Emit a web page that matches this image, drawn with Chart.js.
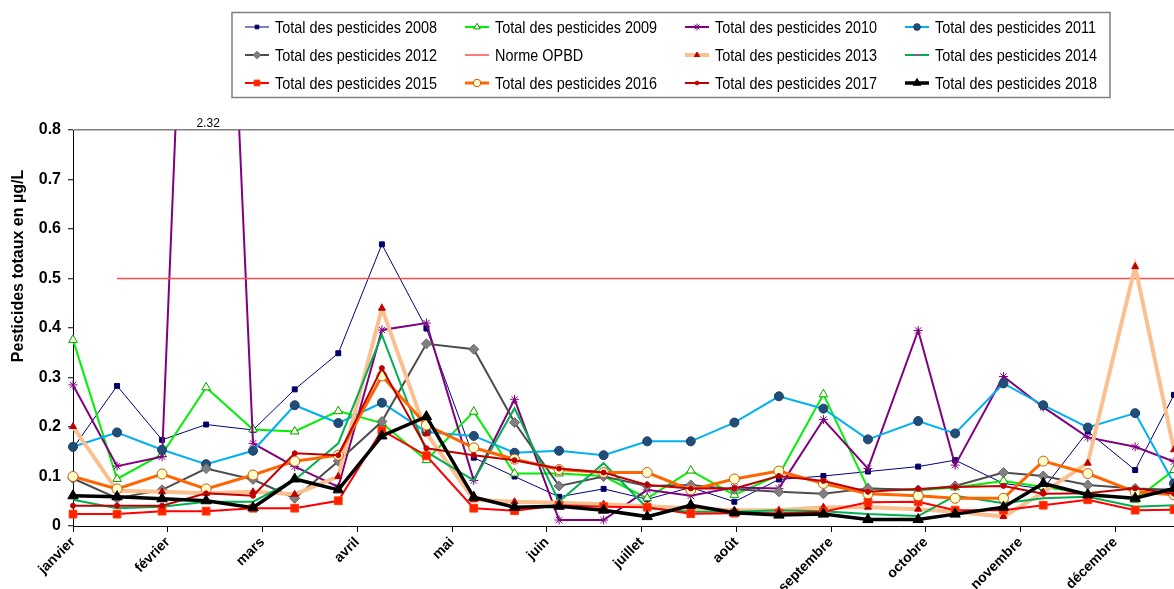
<!DOCTYPE html>
<html lang="fr">
<head>
<meta charset="utf-8">
<title>Total des pesticides</title>
<script src="https://cdn.jsdelivr.net/npm/chart.js@4.4.1/dist/chart.umd.min.js"></script>
<style>
  html, body { margin: 0; padding: 0; background: #fff; }
  #wrap { width: 1174px; height: 589px; position: relative; }
</style>
</head>
<body>
<div id="wrap"><canvas id="chart" width="1174" height="589"></canvas></div>
<script>
const MONTHS = ["janvier", "février", "mars", "avril", "mai", "juin", "juillet",
                "août", "septembre", "octobre", "novembre", "décembre"];

// sampling dates, in months from 1 January
const sampleMonths = [0, 0.465, 0.94, 1.405, 1.90, 2.34, 2.80, 3.26, 3.73, 4.23, 4.66, 5.13, 5.60,
                      6.06, 6.52, 6.98, 7.45, 7.92, 8.39, 8.92, 9.31, 9.82, 10.24, 10.71, 11.21, 11.62];

const total2008 = [0.157, 0.283, 0.174, 0.205, 0.194, 0.276, 0.349, 0.569, 0.399, 0.138, 0.100, 0.059, 0.075,
                   0.054, 0.078, 0.049, 0.094, 0.101, 0.110, 0.120, 0.133, 0.086, 0.075, 0.191, 0.113, 0.265];
const total2009 = [0.376, 0.095, 0.145, 0.280, 0.195, 0.191, 0.232, 0.208, 0.133, 0.231, 0.106, 0.106, 0.101,
                   0.056, 0.112, 0.063, 0.103, 0.266, 0.076, 0.072, 0.078, 0.091, 0.079, 0.066, 0.053, 0.113];
const total2010 = [0.285, 0.121, 0.140, 2.32, 0.167, 0.120, 0.079, 0.396, 0.410, 0.092, 0.256, 0.012, 0.012,
                   0.073, 0.061, 0.078, 0.076, 0.215, 0.116, 0.395, 0.123, 0.302, 0.240, 0.179, 0.160, 0.130];
const total2011 = [0.160, 0.189, 0.154, 0.125, 0.152, 0.244, 0.208, 0.249, 0.190, 0.182, 0.148, 0.152, 0.143,
                   0.171, 0.171, 0.209, 0.262, 0.237, 0.175, 0.212, 0.187, 0.288, 0.244, 0.199, 0.228, 0.086];
const total2012 = [0.096, 0.056, 0.073, 0.116, 0.094, 0.056, 0.131, 0.211, 0.368, 0.357, 0.209, 0.081, 0.100,
                   0.081, 0.083, 0.074, 0.069, 0.065, 0.076, 0.073, 0.081, 0.108, 0.101, 0.083, 0.076, 0.073];
const normeOPBD = [null, 0.5, 0.5, 0.5, 0.5, 0.5, 0.5, 0.5, 0.5, 0.5, 0.5, 0.5, 0.5,
                   0.5, 0.5, 0.5, 0.5, 0.5, 0.5, 0.5, 0.5, 0.5, 0.5, 0.5, 0.5, 0.5];
const total2013 = [0.201, 0.071, 0.069, 0.066, 0.069, 0.064, 0.100, 0.440, 0.187, 0.053, 0.049, 0.047, 0.044,
                   0.040, 0.036, 0.032, 0.032, 0.038, 0.038, 0.034, 0.029, 0.019, 0.068, 0.127, 0.524, 0.154];
const total2014 = [0.053, 0.036, 0.039, 0.049, 0.049, 0.093, 0.167, 0.386, 0.150, 0.092, 0.238, 0.049, 0.127,
                   0.036, 0.029, 0.029, 0.032, 0.030, 0.024, 0.020, 0.061, 0.046, 0.056, 0.059, 0.039, 0.042];
const total2015 = [0.024, 0.024, 0.030, 0.030, 0.036, 0.036, 0.051, 0.193, 0.142, 0.036, 0.031, 0.042, 0.039,
                   0.038, 0.025, 0.026, 0.026, 0.029, 0.048, 0.049, 0.032, 0.032, 0.042, 0.053, 0.032, 0.033];
const total2016 = [0.100, 0.075, 0.105, 0.075, 0.103, 0.131, 0.143, 0.303, 0.204, 0.158, 0.135, 0.114, 0.108,
                   0.108, 0.073, 0.095, 0.111, 0.086, 0.065, 0.061, 0.056, 0.056, 0.131, 0.106, 0.069, 0.063];
const total2017 = [0.041, 0.041, 0.041, 0.066, 0.061, 0.147, 0.143, 0.319, 0.157, 0.143, 0.133, 0.116, 0.108,
                   0.083, 0.076, 0.076, 0.101, 0.091, 0.069, 0.075, 0.079, 0.081, 0.065, 0.066, 0.076, 0.065];
const total2018 = [0.061, 0.059, 0.055, 0.051, 0.037, 0.095, 0.073, 0.182, 0.221, 0.058, 0.038, 0.040, 0.032,
                   0.019, 0.042, 0.027, 0.022, 0.024, 0.013, 0.013, 0.024, 0.038, 0.086, 0.063, 0.056, 0.076];

const SERIES = [
    { label: "Total des pesticides 2008", values: total2008, line: "#000080", width: 1,   point: "rect",     radius: 3.5, fill: "#000066", stroke: "#000066" },
    { label: "Total des pesticides 2009", values: total2009, line: "#00F000", width: 2,   point: "triangle", radius: 5,   fill: "#FFFFE8", stroke: "#00A000" },
    { label: "Total des pesticides 2010", values: total2010, line: "#800080", width: 2,   point: "star",     radius: 4.5, fill: "#800080", stroke: "#800080" },
    { label: "Total des pesticides 2011", values: total2011, line: "#00B0F0", width: 2,   point: "circle",   radius: 4.5, fill: "#1F4E79", stroke: "#1F3F66" },
    { label: "Total des pesticides 2012", values: total2012, line: "#4D4D4D", width: 2,   point: "rectRot",  radius: 5,   fill: "#808080", stroke: "#666666" },
    { label: "Norme OPBD",                values: normeOPBD, line: "#FF4D4D", width: 1.5, point: "circle",   radius: 0,   fill: "#FF4D4D", stroke: "#FF4D4D" },
    { label: "Total des pesticides 2013", values: total2013, line: "#FAC090", width: 4,   point: "triangle", radius: 4,   fill: "#C00000", stroke: "#C00000" },
    { label: "Total des pesticides 2014", values: total2014, line: "#00B050", width: 2,   point: "circle",   radius: 0,   fill: "#00B050", stroke: "#00B050", legendMark: "#7F6084" },
    { label: "Total des pesticides 2015", values: total2015, line: "#FF0000", width: 2,   point: "rect",     radius: 5.5, fill: "#FF2000", stroke: "#FF4000" },
    { label: "Total des pesticides 2016", values: total2016, line: "#FF6600", width: 3,   point: "circle",   radius: 5,   fill: "#FFFFCC", stroke: "#C65911" },
    { label: "Total des pesticides 2017", values: total2017, line: "#C00000", width: 2,   point: "circle",   radius: 2.5, fill: "#C00000", stroke: "#C00000" },
    { label: "Total des pesticides 2018", values: total2018, line: "#000000", width: 3.5, point: "triangle", radius: 6,   fill: "#000000", stroke: "#000000" }
];

const LEGEND_FONT = '17px "Liberation Sans", Arial, sans-serif';
const LEGEND_TEXT_WIDTH = 162; // width of one "Total des pesticides 20xx" label

Chart.defaults.font.family = '"Liberation Sans", Arial, sans-serif';
Chart.defaults.color = "#000";

const datasets = SERIES.map((s, i) => ({
    label: s.label,
    data: sampleMonths.map((m, k) => ({ x: m, y: s.values[k] })),
    borderColor: s.line,
    borderWidth: s.width,
    backgroundColor: s.fill,
    pointStyle: s.point,
    pointRadius: s.radius,
    pointBackgroundColor: s.fill,
    pointBorderColor: s.stroke,
    pointBorderWidth: 1,
    tension: 0,
    spanGaps: false,
    order: SERIES.length - i,
    clip: { left: 12, top: 0, right: 0, bottom: 12 }
}));

const extras = {
    id: "extras",
    afterDraw(chart) {
        const ctx = chart.ctx;
        const area = chart.chartArea;
        ctx.save();

        // axis title
        ctx.save();
        ctx.translate(19, 266);
        ctx.rotate(-Math.PI / 2);
        ctx.font = 'bold 16px "Liberation Sans", Arial, sans-serif';
        ctx.fillStyle = "#000";
        ctx.textAlign = "center";
        ctx.textBaseline = "middle";
        ctx.fillText("Pesticides totaux en µg/L", 0, 0);
        ctx.restore();

        // value of the point that leaves the plot
        const xOut = chart.scales.x.getPixelForValue(sampleMonths[3]);
        ctx.font = '12px "Liberation Sans", Arial, sans-serif';
        ctx.fillStyle = "#000";
        ctx.textAlign = "center";
        ctx.textBaseline = "alphabetic";
        ctx.fillText(total2010[3].toFixed(2), xOut + 2, area.top - 3);

        // legend box
        ctx.strokeStyle = "#808080";
        ctx.lineWidth = 1.5;
        ctx.strokeRect(232, 12.5, 878, 85);

        ctx.font = LEGEND_FONT;
        const squeeze = LEGEND_TEXT_WIDTH / ctx.measureText(SERIES[0].label).width;

        SERIES.forEach((s, i) => {
            const col = i % 4, row = Math.floor(i / 4);
            const x0 = 245 + col * 220;
            const y = 27 + row * 28;
            ctx.strokeStyle = s.line;
            ctx.lineWidth = s.width;
            ctx.beginPath();
            ctx.moveTo(x0, y);
            ctx.lineTo(x0 + 24, y);
            ctx.stroke();
            if (s.radius > 0) {
                ctx.fillStyle = s.fill;
                ctx.strokeStyle = s.stroke;
                ctx.lineWidth = 1;
                Chart.helpers.drawPoint(ctx, { pointStyle: s.point, radius: s.radius * 0.75, rotation: 0, borderWidth: 1 }, x0 + 12, y);
            }
            if (s.legendMark) {
                ctx.strokeStyle = s.legendMark;
                ctx.lineWidth = 2;
                ctx.beginPath();
                ctx.moveTo(x0 + 9, y);
                ctx.lineTo(x0 + 15, y);
                ctx.stroke();
            }
            ctx.save();
            ctx.translate(275 + col * 220, y + 1);
            ctx.scale(squeeze, 1);
            ctx.font = LEGEND_FONT;
            ctx.fillStyle = "#000";
            ctx.textAlign = "left";
            ctx.textBaseline = "middle";
            ctx.fillText(s.label, 0, 0);
            ctx.restore();
        });
        ctx.restore();
    }
};

new Chart(document.getElementById("chart"), {
    type: "line",
    data: { datasets },
    options: {
        responsive: false,
        animation: false,
        devicePixelRatio: 1,
        layout: { autoPadding: false, padding: { top: 130, right: 0, bottom: 0, left: 0 } },
        plugins: { legend: { display: false }, tooltip: { enabled: false } },
        scales: {
            x: {
                type: "linear",
                min: 0,
                max: 11.62,
                afterBuildTicks: scale => { scale.ticks = MONTHS.map((_, i) => ({ value: i })); },
                afterFit: scale => { scale.height = 63; scale.paddingRight = 0; scale.paddingLeft = 0; },
                ticks: {
                    callback: v => MONTHS[Math.round(v)],
                    minRotation: 45,
                    maxRotation: 45,
                    autoSkip: false,
                    padding: 2,
                    color: "#000",
                    font: { size: 14, weight: "bold" }
                },
                grid: { drawOnChartArea: false, tickLength: 6, tickColor: "#000", tickWidth: 1 },
                border: { color: "#000", width: 1 }
            },
            y: {
                min: 0,
                max: 0.8,
                afterFit: scale => { scale.width = 73; },
                ticks: {
                    stepSize: 0.1,
                    padding: 7,
                    color: "#000",
                    font: { size: 16, weight: "bold" }
                },
                grid: {
                    color: c => (c.tick && Math.abs(c.tick.value - 0.8) < 1e-6) ? "#808080" : "rgba(0,0,0,0)",
                    lineWidth: 1.5,
                    tickColor: "#000",
                    tickLength: 5,
                    tickWidth: 1
                },
                border: { color: "#000", width: 1 }
            }
        }
    },
    plugins: [extras]
});
</script>
</body>
</html>
